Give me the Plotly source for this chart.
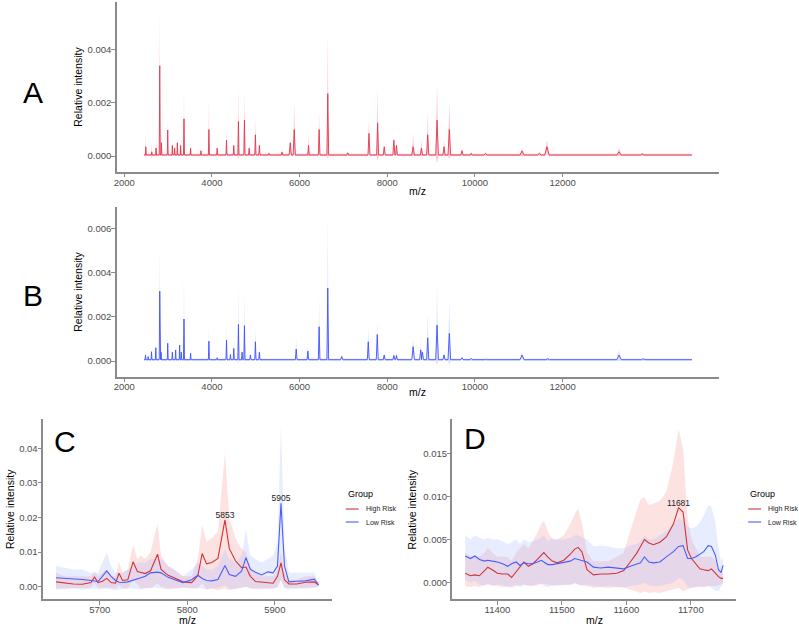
import plotly.graph_objects as go

# ---------------- Panel A (High Risk mean spectrum) ----------------
A_start, A_end = 2450, 14950
A_base_mean, A_base_upper, A_base_lower = 0.00004, 0.00009, 0.0
A_peak_mz = [2492, 2628, 2726, 2810, 2848, 2992, 3098, 3150, 3211, 3287, 3363, 3514, 3750, 3931,
             4120, 4333, 4499, 4605, 4742, 4850, 4992, 5083, 5300, 5598, 5787, 5878, 6204, 6446,
             6643, 7097, 7583, 7780, 7931, 8151, 8211, 8590, 8780, 8923, 9136, 9295, 9416, 9704,
             9916, 10242, 11075, 11469, 11643, 13287, 13817]
A_peak_mean = [0.00035, 0.00016, 0.0003, 0.0034, 0.0005, 0.00098, 0.0004, 0.0003, 0.0005, 0.0004, 0.0014, 0.0003, 0.0002, 0.001,
               0.0003, 0.0006, 0.0004, 0.0013, 0.00135, 0.0003, 0.0008, 0.0004, 0.0001, 0.00015, 0.0005, 0.001, 0.0004, 0.001,
               0.00235, 0.00012, 0.00085, 0.00125, 0.00035, 0.0006, 0.0004, 0.00035, 0.0003, 0.0008, 0.00135, 0.00035, 0.001, 0.0002,
               0.0001, 0.0001, 0.00019, 0.0001, 0.00035, 0.00016, 0.00008]
A_peak_upper = [0.0008, 0.0005, 0.00066, 0.0055, 0.001, 0.00135, 0.0006, 0.0005, 0.0007, 0.0006, 0.0025, 0.0004, 0.0003, 0.0021,
                0.0004, 0.001, 0.0005, 0.0026, 0.0024, 0.0004, 0.0015, 0.0006, 0.00015, 0.00025, 0.0006, 0.002, 0.0008, 0.00166,
                0.00466, 0.00016, 0.0014, 0.0026, 0.0004, 0.0007, 0.0005, 0.0008, 0.0006, 0.00166, 0.0028, 0.0006, 0.0021, 0.0003,
                0.00015, 0.00014, 0.0003, 0.00015, 0.0006, 0.0003, 0.00012]
A_peak_lower = [-0.0001, -0.0001, -0.00005, 0.0012, 0.0, 0.0005, 0.0001, 0.0001, 0.0002, 0.0001, 0.0003, 0.0001, 0.0, 0.0001,
                0.0001, 0.0002, 0.0001, -0.00012, 0.0002, 0.0, 0.0001, 0.0001, 0.0, 0.0, 0.0001, 0.0001, 0.0, 0.0002,
                -0.0001, 0.0, 0.0002, -0.0002, 0.0001, 0.0002, 0.0001, 0.0, 0.0, 0.0001, -0.00028, 0.0, -0.0001, 0.0,
                0.0, 0.0, 0.0, 0.0, 0.0001, 0.0, 0.0]
A_peak_halfwidth = [10, 10, 10, 12, 10, 10, 10, 10, 10, 10, 12, 10, 10, 12,
                    12, 12, 12, 14, 14, 14, 14, 14, 20, 20, 25, 25, 18, 18,
                    20, 25, 22, 22, 22, 22, 20, 30, 25, 25, 30, 25, 30, 25,
                    25, 30, 45, 40, 50, 50, 40]

# ---------------- Panel B (Low Risk mean spectrum) ----------------
B_start, B_end = 2450, 14950
B_base_mean, B_base_upper, B_base_lower = 0.00006, 0.0001, 0.0
B_peak_mz = [2485, 2546, 2622, 2720, 2810, 2840, 2992, 3098, 3173, 3264, 3302, 3363, 3514, 3931,
             4120, 4333, 4423, 4499, 4605, 4689, 4742, 4878, 4992, 5083, 5923, 6189, 6446, 6643,
             6961, 7567, 7772, 7931, 8151, 8211, 8590, 8764, 8802, 8923, 9136, 9295, 9416, 9704,
             9916, 10242, 10432, 11075, 11658, 13287, 13840]
B_peak_mean = [0.00027, 0.0002, 0.00042, 0.0006, 0.00316, 0.0004, 0.0008, 0.0004, 0.0005, 0.00072, 0.0004, 0.0019, 0.00035, 0.0009,
               0.00015, 0.00095, 0.0003, 0.00057, 0.00165, 0.0004, 0.0016, 0.00027, 0.00087, 0.0004, 0.00054, 0.00045, 0.00155, 0.0033,
               0.0002, 0.00087, 0.0012, 0.00027, 0.00025, 0.00025, 0.00065, 0.0005, 0.0004, 0.00105, 0.00162, 0.00027, 0.00125, 0.00015,
               0.00012, 0.00008, 0.00008, 0.00027, 0.0001, 0.00027, 0.0001]
B_peak_upper = [0.0004, 0.0003, 0.0006, 0.0008, 0.0051, 0.0006, 0.00117, 0.0006, 0.0007, 0.001, 0.0006, 0.0039, 0.0005, 0.0015,
                0.0002, 0.0017, 0.0004, 0.0008, 0.0034, 0.0006, 0.0032, 0.0004, 0.0015, 0.0006, 0.001, 0.0007, 0.0029, 0.0065,
                0.0003, 0.0015, 0.0018, 0.0004, 0.0004, 0.0004, 0.001, 0.0008, 0.0006, 0.0022, 0.0033, 0.0004, 0.0027, 0.0002,
                0.00016, 0.00012, 0.00012, 0.0004, 0.00015, 0.0005, 0.00014]
B_peak_lower = [0.0001, 0.0001, 0.0002, 0.0004, 0.0012, 0.0002, 0.0004, 0.0002, 0.0003, 0.0004, 0.0002, 0.0, 0.0002, 0.0003,
                0.0001, 0.0002, 0.0002, 0.0003, -0.0001, 0.0002, 0.0, 0.0001, 0.0002, 0.0002, 0.0001, 0.0002, 0.0002, 0.0,
                0.0001, 0.0002, 0.0006, 0.0001, 0.0001, 0.0001, 0.0003, 0.0002, 0.0002, 0.0, -0.0002, 0.0001, -0.0002, 0.0001,
                0.0, 0.0, 0.0, 0.0001, 0.0, 0.0, 0.0]
B_peak_halfwidth = [10, 10, 10, 10, 12, 10, 10, 10, 10, 10, 10, 12, 10, 12,
                    12, 12, 12, 12, 14, 14, 14, 14, 14, 14, 20, 18, 18, 20,
                    25, 22, 22, 22, 22, 20, 30, 25, 25, 25, 30, 25, 30, 25,
                    25, 30, 30, 45, 40, 50, 40]

# ---------------- Panel C (zoom 5650-5950) ----------------
C_mz = [5650, 5660, 5670, 5680, 5690, 5694, 5698, 5703, 5708, 5713, 5718, 5722, 5726, 5732, 5738, 5743,
        5747, 5752, 5758, 5766, 5770, 5778, 5785, 5795, 5805, 5812, 5817, 5822, 5828, 5835, 5843, 5848,
        5855, 5862, 5867, 5872, 5878, 5885, 5892, 5898, 5903, 5907, 5911, 5916, 5925, 5935, 5945, 5950]
C_high_mean = [0.0014, 0.0010, 0.0008, 0.0007, 0.0012, 0.0028, 0.0012, 0.0016, 0.0024, 0.0012, 0.0010, 0.0039, 0.0018, 0.0020, 0.0072, 0.0044,
               0.0042, 0.0038, 0.0046, 0.0094, 0.0050, 0.0033, 0.0026, 0.0014, 0.0012, 0.0032, 0.0096, 0.0066, 0.0070, 0.0082, 0.0193, 0.0110,
               0.0075, 0.0055, 0.0057, 0.0030, 0.0015, 0.0013, 0.0011, 0.0010, 0.0030, 0.0069, 0.0020, 0.0008, 0.0008, 0.0013, 0.0014, 0.0005]
C_high_upper = [0.004, 0.003, 0.003, 0.003, 0.003, 0.0045, 0.003, 0.004, 0.005, 0.003, 0.003, 0.0072, 0.004, 0.005, 0.012, 0.008,
                0.009, 0.008, 0.010, 0.0183, 0.009, 0.006, 0.005, 0.003, 0.003, 0.008, 0.0178, 0.013, 0.014, 0.016, 0.0386, 0.020,
                0.014, 0.011, 0.010, 0.006, 0.004, 0.003, 0.003, 0.003, 0.005, 0.010, 0.004, 0.002, 0.002, 0.003, 0.003, 0.001]
C_high_lower = [-0.0005, -0.0005, -0.0005, -0.0005, -0.0003, 0.001, -0.0003, -0.0004, -0.0002, -0.0004, -0.0005, 0.0005, -0.0004, -0.0005, 0.002, 0.0005,
                -0.0005, -0.0003, -0.0005, 0.001, 0.0, -0.0005, -0.0005, -0.0002, -0.0003, -0.0005, 0.001, -0.0008, -0.0005, -0.001, -0.0005, -0.001,
                -0.0005, -0.0003, 0.0, -0.0005, -0.0005, -0.0005, -0.0005, -0.0005, 0.0, 0.002, -0.0003, -0.0004, -0.0004, -0.0003, -0.0002, 0.0]
C_low_mean = [0.0026, 0.0025, 0.0024, 0.0021, 0.0018, 0.0017, 0.0015, 0.0030, 0.0046, 0.0030, 0.0018, 0.0013, 0.0012, 0.0014, 0.0018, 0.0022,
              0.0026, 0.0030, 0.0040, 0.0042, 0.0040, 0.0027, 0.0020, 0.0012, 0.0020, 0.0033, 0.0024, 0.0018, 0.0017, 0.0021, 0.0061, 0.0035,
              0.0030, 0.0045, 0.0084, 0.0050, 0.0042, 0.0034, 0.0043, 0.0040, 0.0060, 0.0241, 0.0060, 0.0014, 0.0016, 0.0017, 0.0022, 0.0005]
C_low_upper = [0.006, 0.0055, 0.005, 0.005, 0.004, 0.004, 0.004, 0.007, 0.0098, 0.006, 0.004, 0.004, 0.004, 0.005, 0.006, 0.007,
               0.007, 0.007, 0.008, 0.008, 0.008, 0.006, 0.005, 0.003, 0.005, 0.007, 0.006, 0.005, 0.005, 0.006, 0.011, 0.008,
               0.007, 0.009, 0.0165, 0.009, 0.008, 0.007, 0.008, 0.009, 0.013, 0.0467, 0.012, 0.004, 0.004, 0.004, 0.004, 0.001]
C_low_lower = [-0.0008, -0.0006, -0.0005, -0.0008, -0.0005, -0.0005, -0.0008, -0.0006, -0.0005, -0.0008, -0.0010, -0.0008, -0.0006, -0.0005, -0.0005, -0.0006,
               -0.0008, -0.0005, -0.0003, -0.0004, -0.0006, -0.0008, -0.0005, -0.0003, -0.0005, -0.0003, -0.0006, -0.0008, -0.0005, -0.0004, 0.0005, -0.0006,
               -0.0008, -0.0004, 0.0, -0.0005, -0.0006, -0.0008, -0.0005, -0.0006, -0.0003, 0.002, -0.0005, -0.0008, -0.0006, -0.0005, -0.0004, 0.0]
C_label_x = [5843, 5907]
C_label_y = [0.0193, 0.0241]
C_label_text = ["5853", "5905"]

# ---------------- Panel D (zoom 11350-11750) ----------------
D_mz = [11350, 11358, 11365, 11372, 11380, 11385, 11392, 11400, 11408, 11416, 11422, 11429, 11435, 11441,
        11448, 11455, 11462, 11468, 11472, 11478, 11485, 11493, 11503, 11513, 11520, 11525, 11531, 11539,
        11549, 11560, 11572, 11585, 11596, 11606, 11616, 11622, 11628, 11635, 11642, 11652, 11662, 11673,
        11681, 11688, 11695, 11701, 11708, 11714, 11720, 11727, 11732, 11738, 11743, 11747, 11750]
D_high_mean = [0.0011, 0.0008, 0.0009, 0.0008, 0.0014, 0.0018, 0.0015, 0.0011, 0.0010, 0.0010, 0.0006, 0.0013, 0.0019, 0.0024,
               0.0019, 0.0022, 0.0027, 0.0032, 0.0035, 0.0030, 0.0025, 0.0023, 0.0026, 0.0033, 0.0039, 0.0041, 0.0036, 0.0015,
               0.0009, 0.0010, 0.0010, 0.0011, 0.0014, 0.0024, 0.0034, 0.0042, 0.0050, 0.0046, 0.0044, 0.0047, 0.0053, 0.0068,
               0.0087, 0.0082, 0.0038, 0.0028, 0.0022, 0.0016, 0.0015, 0.0014, 0.0016, 0.0011, 0.0007, 0.0005, 0.0005]
D_high_upper = [0.0035, 0.003, 0.003, 0.003, 0.0035, 0.004, 0.0035, 0.003, 0.003, 0.003, 0.0025, 0.0035, 0.004, 0.0045,
                0.004, 0.0048, 0.0058, 0.0068, 0.0072, 0.006, 0.005, 0.005, 0.0055, 0.0068, 0.008, 0.0086, 0.007, 0.0035,
                0.0025, 0.0025, 0.0025, 0.003, 0.0035, 0.006, 0.0085, 0.0097, 0.0099, 0.009, 0.0092, 0.0095, 0.0105, 0.014,
                0.0178, 0.0155, 0.0075, 0.005, 0.004, 0.003, 0.003, 0.003, 0.003, 0.0025, 0.0015, 0.001, 0.001]
D_high_lower = [-0.0004, -0.0005, -0.0004, -0.0005, -0.0003, -0.0002, -0.0003, -0.0004, -0.0005, -0.0005, -0.0006, -0.0004, -0.0003, -0.0002,
                -0.0003, -0.0004, -0.0003, -0.0002, -0.0001, -0.0002, -0.0003, -0.0003, -0.0003, -0.0002, -0.0001, -0.0002, -0.0003, -0.0005,
                -0.0006, -0.0005, -0.0006, -0.0005, -0.0006, -0.0008, -0.0010, -0.0012, -0.0010, -0.0012, -0.0011, -0.0012, -0.0010, -0.0008,
                -0.0006, -0.0010, -0.0008, -0.0006, -0.0005, -0.0005, -0.0005, -0.0004, -0.0004, -0.0004, -0.0003, -0.0002, 0.0]
D_low_mean = [0.0031, 0.0028, 0.0031, 0.0027, 0.0025, 0.0026, 0.0025, 0.0024, 0.0022, 0.0019, 0.0022, 0.0024, 0.0020, 0.0023,
              0.0022, 0.0022, 0.0024, 0.0026, 0.0024, 0.0021, 0.0021, 0.0022, 0.0023, 0.0025, 0.0028, 0.0027, 0.0026, 0.0024,
              0.0018, 0.0017, 0.0018, 0.0017, 0.0016, 0.0019, 0.0021, 0.0023, 0.0030, 0.0024, 0.0023, 0.0024, 0.0030, 0.0036,
              0.0042, 0.0043, 0.0028, 0.0028, 0.0030, 0.0033, 0.0036, 0.0043, 0.0042, 0.0032, 0.0015, 0.0012, 0.0020]
D_low_upper = [0.0055, 0.005, 0.0055, 0.0052, 0.005, 0.0052, 0.005, 0.005, 0.0048, 0.0045, 0.0047, 0.005, 0.0045, 0.005,
               0.0047, 0.0048, 0.005, 0.0052, 0.0055, 0.0048, 0.0052, 0.005, 0.005, 0.0052, 0.0055, 0.0055, 0.0052, 0.005,
               0.0042, 0.0043, 0.0042, 0.004, 0.004, 0.0043, 0.0045, 0.0048, 0.0055, 0.005, 0.005, 0.0055, 0.006, 0.0068,
               0.0075, 0.0072, 0.0065, 0.0063, 0.0065, 0.007, 0.0078, 0.009, 0.0088, 0.007, 0.004, 0.0025, 0.003]
D_low_lower = [0.0003, 0.0, 0.0002, -0.0002, -0.0003, -0.0001, -0.0004, -0.0002, -0.0003, -0.0005, -0.0004, -0.0002, -0.0005, -0.0003,
               -0.0004, -0.0003, -0.0002, -0.0001, -0.0004, -0.0005, -0.0004, -0.0003, -0.0002, -0.0003, 0.0, -0.0002, -0.0003, -0.0002,
               -0.0004, -0.0005, -0.0004, -0.0005, -0.0005, -0.0004, -0.0003, -0.0002, 0.0, -0.0003, -0.0004, -0.0004, -0.0002, 0.0,
               0.0005, 0.0004, -0.0005, -0.0006, -0.0005, -0.0004, -0.0005, -0.0004, -0.0006, -0.0009, -0.0010, -0.0005, 0.0]
D_label_x = [11681]
D_label_y = [0.0087]
D_label_text = ["11681"]

groups = ["High Risk", "Low Risk"]
legend_title = "Group"
x_title = "m/z"
y_title = "Relative intensity"

# ---------------- styles ----------------
FONT = "Liberation Sans, Arial, sans-serif"
RED_LINE = "#E2394E"
RED_FILL = "rgba(255,160,180,0.6)"
BLUE_LINE = "#3E52FF"
BLUE_FILL = "rgba(170,185,255,0.4)"
HIGH_LINE = "#D43237"
HIGH_FILL = "rgba(248,150,150,0.28)"
LOW_LINE = "#4A5CFF"
LOW_FILL = "rgba(160,185,255,0.25)"
W, H = 799, 626
AX = "#8a8a8a"


def spectrum(start, end, base, peak_mz, peak_val, halfwidth):
    pts = [(start, base)]
    for m, v, w in sorted(zip(peak_mz, peak_val, halfwidth)):
        pts += [(m - w, base), (m, v), (m + w, base)]
    pts.append((end, base))
    return [p[0] for p in pts], [p[1] for p in pts]


fig = go.Figure()


def add_ribbon(x, lower, upper, fill, xa, ya):
    fig.add_trace(go.Scatter(x=x, y=lower, mode="lines", line=dict(width=0, color=fill),
                             showlegend=False, hoverinfo="skip", xaxis=xa, yaxis=ya))
    fig.add_trace(go.Scatter(x=x, y=upper, mode="lines", line=dict(width=0, color=fill),
                             fill="tonexty", fillcolor=fill, showlegend=False, hoverinfo="skip",
                             xaxis=xa, yaxis=ya))


# Panel A
xa, ya_lo = spectrum(A_start, A_end, A_base_lower, A_peak_mz, A_peak_lower, A_peak_halfwidth)
_, ya_up = spectrum(A_start, A_end, A_base_upper, A_peak_mz, A_peak_upper, A_peak_halfwidth)
_, ya_me = spectrum(A_start, A_end, A_base_mean, A_peak_mz, A_peak_mean, A_peak_halfwidth)
add_ribbon(xa, ya_lo, ya_up, RED_FILL, "x", "y")
fig.add_trace(go.Scatter(x=xa, y=ya_me, mode="lines", line=dict(color=RED_LINE, width=0.9),
                         showlegend=False, xaxis="x", yaxis="y"))

# Panel B
xb, yb_lo = spectrum(B_start, B_end, B_base_lower, B_peak_mz, B_peak_lower, B_peak_halfwidth)
_, yb_up = spectrum(B_start, B_end, B_base_upper, B_peak_mz, B_peak_upper, B_peak_halfwidth)
_, yb_me = spectrum(B_start, B_end, B_base_mean, B_peak_mz, B_peak_mean, B_peak_halfwidth)
add_ribbon(xb, yb_lo, yb_up, BLUE_FILL, "x2", "y2")
fig.add_trace(go.Scatter(x=xb, y=yb_me, mode="lines", line=dict(color=BLUE_LINE, width=0.9),
                         showlegend=False, xaxis="x2", yaxis="y2"))

# Panel C
add_ribbon(C_mz, C_high_lower, C_high_upper, HIGH_FILL, "x3", "y3")
add_ribbon(C_mz, C_low_lower, C_low_upper, LOW_FILL, "x3", "y3")
fig.add_trace(go.Scatter(x=C_mz, y=C_high_mean, mode="lines", name=groups[0], showlegend=False,
                         line=dict(color=HIGH_LINE, width=1.1), xaxis="x3", yaxis="y3"))
fig.add_trace(go.Scatter(x=C_mz, y=C_low_mean, mode="lines", name=groups[1], showlegend=False,
                         line=dict(color=LOW_LINE, width=1.1), xaxis="x3", yaxis="y3"))
fig.add_trace(go.Scatter(x=C_label_x, y=C_label_y, mode="text", text=C_label_text,
                         textposition="top center", textfont=dict(size=8.5, color="#222", family=FONT),
                         showlegend=False, xaxis="x3", yaxis="y3"))

# Panel D
add_ribbon(D_mz, D_high_lower, D_high_upper, HIGH_FILL, "x4", "y4")
add_ribbon(D_mz, D_low_lower, D_low_upper, LOW_FILL, "x4", "y4")
fig.add_trace(go.Scatter(x=D_mz, y=D_high_mean, mode="lines", name=groups[0], showlegend=False,
                         line=dict(color=HIGH_LINE, width=1.1), xaxis="x4", yaxis="y4"))
fig.add_trace(go.Scatter(x=D_mz, y=D_low_mean, mode="lines", name=groups[1], showlegend=False,
                         line=dict(color=LOW_LINE, width=1.1), xaxis="x4", yaxis="y4"))
fig.add_trace(go.Scatter(x=D_label_x, y=D_label_y, mode="text", text=D_label_text,
                         textposition="top center", textfont=dict(size=8.5, color="#222", family=FONT),
                         showlegend=False, xaxis="x4", yaxis="y4"))


def xaxis(dom, rng, ticks, anchor):
    return dict(domain=dom, range=rng, tickvals=ticks, tickformat="d", showline=True, linecolor=AX,
                linewidth=1.6, ticks="outside", ticklen=3.5, tickcolor=AX, tickwidth=1.2, showgrid=False,
                zeroline=False, ticklabelstandoff=-3,
                tickfont=dict(size=9.5, color="#4D4D4D", family=FONT), anchor=anchor)


def yaxis(dom, rng, ticks, fmt, anchor):
    return dict(domain=dom, range=rng, tickvals=ticks, tickformat=fmt, showline=True, linecolor=AX,
                linewidth=1.6, ticks="outside", ticklen=3.5, tickcolor=AX, tickwidth=1.2, showgrid=False,
                zeroline=False, ticklabelstandoff=-2,
                tickfont=dict(size=9.5, color="#4D4D4D", family=FONT), anchor=anchor)


fig.update_layout(
    width=W, height=H, margin=dict(l=0, r=0, t=0, b=0),
    paper_bgcolor="white", plot_bgcolor="white",
    font=dict(family=FONT), showlegend=False,
    xaxis=xaxis([114 / W, 719 / W], [1825, 15575], [2000, 4000, 6000, 8000, 10000, 12000], "y"),
    yaxis=yaxis([1 - 172 / H, 1 - 2 / H], [-0.0006, 0.0058], [0, 0.002, 0.004], ".3f", "x"),
    xaxis2=xaxis([114 / W, 719 / W], [1825, 15575], [2000, 4000, 6000, 8000, 10000, 12000], "y2"),
    yaxis2=yaxis([1 - 376.7 / H, 1 - 206.7 / H], [-0.00071, 0.00698], [0, 0.002, 0.004, 0.006], ".3f", "x2"),
    xaxis3=xaxis([40 / W, 330 / W], [5635, 5965], [5700, 5800, 5900], "y3"),
    yaxis3=yaxis([1 - 599.3 / H, 1 - 419.3 / H], [-0.00364, 0.0484], [0, 0.01, 0.02, 0.03, 0.04], ".2f", "x3"),
    xaxis4=xaxis([451 / W, 735.7 / W], [11330, 11770], [11400, 11500, 11600, 11700], "y4"),
    yaxis4=yaxis([1 - 599.3 / H, 1 - 419.3 / H], [-0.00193, 0.01896], [0, 0.005, 0.01, 0.015], ".3f", "x4"),
)


def paper_text(text, px, py, size, color="black", xanchor="center", angle=0):
    fig.add_annotation(text=text, x=px / W, y=1 - py / H, xref="paper", yref="paper",
                       showarrow=False, xanchor=xanchor, yanchor="middle", textangle=angle,
                       font=dict(size=size, color=color, family=FONT))


# panel letters
for letter, px, py in [("A", 30, 92), ("B", 30, 296), ("C", 62, 441), ("D", 474, 439)]:
    paper_text(letter, px, py, 30)

# axis titles
for px, py in [(416.5, 191), (416.5, 392), (185, 620), (593.5, 620)]:
    paper_text(x_title, px, py, 10.5)
for px, py in [(75, 87), (75, 292), (7, 509), (411, 509)]:
    paper_text(y_title, px, py, 10.5, angle=-90)

# legends (Group: High Risk / Low Risk)
for lx in [344, 748]:
    paper_text(legend_title, lx, 494, 9, xanchor="left")
    for name, col, ly in [(groups[0], HIGH_LINE, 509), (groups[1], LOW_LINE, 522)]:
        fig.add_shape(type="line", xref="paper", yref="paper", x0=lx / W, x1=(lx + 13) / W,
                      y0=1 - ly / H, y1=1 - ly / H, line=dict(color=col, width=1.1))
        paper_text(name, lx + 18, ly, 7, color="#222", xanchor="left")

fig.write_html("out.html", config={"displayModeBar": False},
               post_script="document.body.style.margin='0px';")
